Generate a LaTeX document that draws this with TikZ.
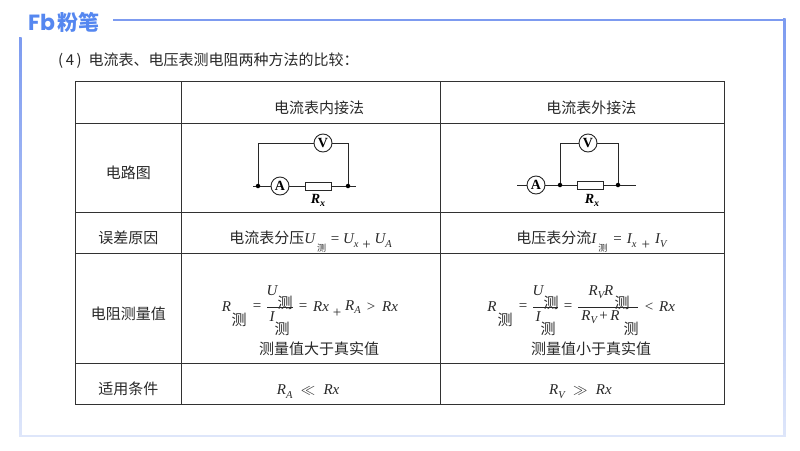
\documentclass[tikz,border=0pt]{standalone}
\usepackage{fontspec}
\setmainfont{Noto Sans CJK SC}
\newfontfamily\rmserif{Liberation Serif}
\newfontfamily\logofont{Poppins}
\usetikzlibrary{matrix}
\definecolor{frameblue}{RGB}{125,155,240}
\definecolor{framepale}{RGB}{222,230,250}
\definecolor{logoblue}{RGB}{85,135,240}
\definecolor{tableline}{RGB}{50,50,50}
\definecolor{inktext}{RGB}{40,40,40}
\newcommand\mv[1]{{\rmserif\itshape #1}}
\newcommand\mop[1]{{\rmserif\ #1\ }}
\newcommand\msub[1]{\raisebox{-3.5pt}{\fontsize{10.5}{10.5}\selectfont\rmserif\itshape #1}}
\newcommand\subce{\hspace{2pt}\raisebox{-8pt}{\fontsize{9}{9}\selectfont 测}\hspace{1pt}}
\newcommand\lowplus{\raisebox{-5.5pt}{\rmserif\ +\ }}
\tikzset{
  cntext/.style={font=\fontsize{15}{18}\selectfont, text=inktext, inner sep=0pt},
  mathtext/.style={font=\fontsize{15}{17}\selectfont, text=inktext, inner sep=0pt},
  wire/.style={draw=inktext, line width=0.9pt},
  meter/.style={circle, draw=inktext, line width=0.9pt, fill=white, minimum size=18pt, inner sep=0pt, text=black, font=\rmserif\bfseries\fontsize{14}{14}\selectfont},
  resistor/.style={rectangle, draw=inktext, line width=0.9pt, fill=white, minimum width=26pt, minimum height=8pt, inner sep=0pt},
  junction/.style={circle, fill=black, minimum size=4.5pt, inner sep=0pt},
  rxlabel/.style={font=\rmserif\bfseries\itshape\fontsize{14}{14}\selectfont, inner sep=0pt}
}

\begin{document}
\begin{tikzpicture}[x=1pt, y=-1pt]
  \useasboundingbox (0,0) rectangle (800,450);
  % frame and logo
  \shade[top color=frameblue, bottom color=framepale] (19,37) rectangle (21.5,436);
  \shade[top color=frameblue, bottom color=framepale] (783,18.5) rectangle (785.5,436);
  \fill[framepale] (19,434.5) rectangle (785.5,436.5);
  \fill[frameblue] (113,18.5) rectangle (785.5,20.5);
  \node (logofb) [anchor=west, inner sep=0pt, text=logoblue, font=\logofont\bfseries\fontsize{22}{22}\selectfont] at (28,22) {Fb};
  \node (logocn) [anchor=west, inner sep=0pt, text=logoblue, font=\bfseries\fontsize{21}{21}\selectfont] at (57,22) {粉笔};
  \node (title) [cntext, anchor=west] at (58,61) {(\,4\,)\hspace{7pt}电流表、电压表测电阻两种方法的比较：};

  \matrix (m) [matrix of nodes, nodes in empty cells, anchor=north west, inner sep=0pt, row sep=-0.9pt, column sep=-0.9pt,
    nodes={cntext, draw=tableline, line width=0.9pt, outer sep=0pt, text height=22pt, text depth=0pt},
    column 1/.style={nodes={minimum width=105.3pt}},
    column 2/.style={nodes={minimum width=259.3pt}},
    column 3/.style={nodes={minimum width=284.4pt}},
    row 1/.style={nodes={minimum height=41.5pt}},
    row 2/.style={nodes={minimum height=89pt}},
    row 3/.style={nodes={minimum height=41pt}},
    row 4/.style={nodes={minimum height=110pt}},
    row 5/.style={nodes={minimum height=41pt}}] at (75,81)
  {
    & |[text width=259.3pt, align=center]| \hspace{17pt}电流表内接法 & |[text width=284.4pt, align=center]| \hspace{18pt}电流表外接法 \\
    电路图 & & \\
    误差原因 & 电流表分压\mv{U}\subce\mop{=}\mv{U}\msub{x}\lowplus\mv{U}\msub{A} & |[text width=284.4pt, align=center]| \hspace{18pt}电压表分流\mv{I}\subce\mop{=}\mv{I}\msub{x}\lowplus\mv{I}\msub{V} \\
    电阻测量值 & & \\
    适用条件 & \mv{R}\msub{A}\;\;$\ll$\;\;\mv{Rx}\hspace{5pt} & \mv{R}\msub{V}\;\;$\gg$\;\;\mv{Rx}\hspace{4pt} \\
  };

  % left circuit
  \coordinate (lstart) at (253,186);
  \coordinate (lend) at (356,186);
  \coordinate (ltl) at (258,143);
  \coordinate (ltr) at (348,143);
  \node (ljl) [junction] at (258,186) {};
  \node (ljr) [junction] at (348,186) {};
  \draw[wire] (lstart) -- (ljl) -- (ljr) -- (lend);
  \draw[wire] (ljl) -- (ltl) -- (ltr) -- (ljr);
  \node (lam) [meter] at (280,186) {A};
  \node (lvm) [meter] at (323,143) {V};
  \node (lres) [resistor] at (318,186) {};
  \node (lrx) [rxlabel] at (318,200) {R\raisebox{-3pt}{\fontsize{10}{10}\selectfont x}};

  % right circuit
  \coordinate (rstart) at (517,185);
  \coordinate (rend) at (636,185);
  \coordinate (rtl) at (560,143);
  \coordinate (rtr) at (618,143);
  \node (rjl) [junction] at (560,185) {};
  \node (rjr) [junction] at (618,185) {};
  \draw[wire] (rstart) -- (rjl) -- (rjr) -- (rend);
  \draw[wire] (rjl) -- (rtl) -- (rtr) -- (rjr);
  \node (ram) [meter] at (536,185) {A};
  \node (rvm) [meter] at (588,143) {V};
  \node (rres) [resistor] at (590,185) {};
  \node (rrx) [rxlabel] at (592,200) {R\raisebox{-3pt}{\fontsize{10}{10}\selectfont x}};

  % left formula
  \node (lr) [mathtext] at (226.5,306.5) {\mv{R}};
  \node (lrce) [cntext] at (239,320) {测};
  \node (leqa) [mathtext] at (257,307) {\rmserif =};
  \node (lu) [mathtext] at (272,291) {\mv{U}};
  \node (luce) [cntext] at (285,303) {测};
  \coordinate (lbara) at (267,307);
  \coordinate (lbarb) at (293,307);
  \draw[wire] (lbara) -- (lbarb);
  \node (li) [mathtext] at (272,317) {\mv{I}};
  \node (lice) [cntext] at (282,329) {测};
  \node (leqb) [mathtext] at (303,307) {\rmserif =};
  \node (lrxa) [mathtext] at (321,307) {\mv{Rx}};
  \node (lplus) [mathtext] at (337,313) {\rmserif +};
  \node (lra) [mathtext] at (353,307) {\mv{R}\msub{A}};
  \node (lgt) [mathtext] at (371,307) {\rmserif >};
  \node (lrxb) [mathtext] at (390,307) {\mv{Rx}};
  \node (lnote) [cntext] at (319,349) {测量值大于真实值};

  % right formula
  \node (rr) [mathtext] at (492,306.5) {\mv{R}};
  \node (rrce) [cntext] at (505,320) {测};
  \node (reqa) [mathtext] at (523,307) {\rmserif =};
  \node (ru) [mathtext] at (538,291) {\mv{U}};
  \node (ruce) [cntext] at (551,303) {测};
  \coordinate (rbara) at (533,307);
  \coordinate (rbarb) at (558,307);
  \draw[wire] (rbara) -- (rbarb);
  \node (ri) [mathtext] at (538,317) {\mv{I}};
  \node (rice) [cntext] at (548,329) {测};
  \node (reqb) [mathtext] at (568,307) {\rmserif =};
  \node (rtop) [mathtext] at (601,292) {\mv{R}\msub{V}\mv{R}};
  \node (rtopce) [cntext] at (622,303) {测};
  \coordinate (rbarc) at (578,307);
  \coordinate (rbard) at (638,307);
  \draw[wire] (rbarc) -- (rbard);
  \node (rbot) [mathtext] at (600.5,317) {\mv{R}\msub{V}{\rmserif\,+\,}\mv{R}};
  \node (rbotce) [cntext] at (631,329) {测};
  \node (rlt) [mathtext] at (649,307) {\rmserif <};
  \node (rrxb) [mathtext] at (667,307) {\mv{Rx}};
  \node (rnote) [cntext] at (591,349) {测量值小于真实值};
\end{tikzpicture}
\end{document}
